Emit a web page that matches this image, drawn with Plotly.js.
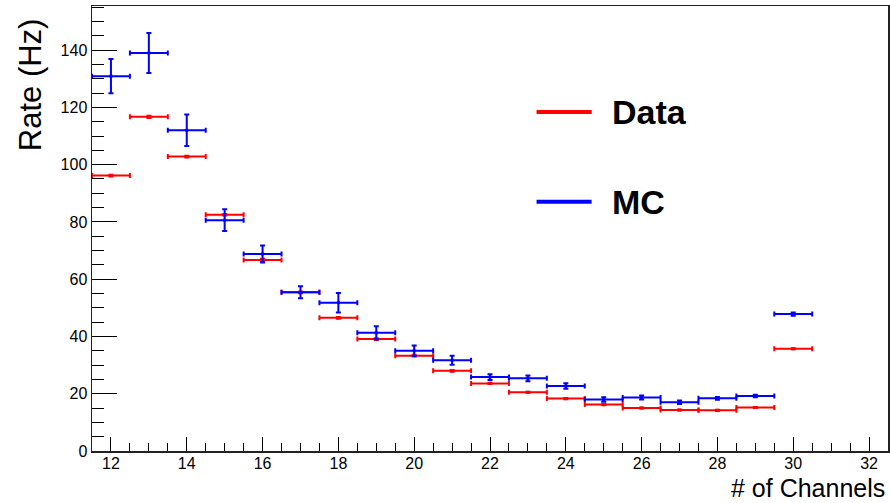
<!DOCTYPE html>
<html>
<head>
<meta charset="utf-8">
<script src="https://cdn.plot.ly/plotly-3.0.1.min.js"></script>
<style>
  html, body { margin: 0; padding: 0; background: #ffffff; }
  #chart { width: 890px; height: 503px; }
</style>
</head>
<body>
<div id="chart"></div>
<script>
// Number of channels (bin centres, bin width 1)
const channels = [12, 13, 14, 15, 16, 17, 18, 19, 20, 21, 22, 23, 24, 25, 26, 27, 28, 29, 30];
const binHalfWidth = [0.5, 0.5, 0.5, 0.5, 0.5, 0.5, 0.5, 0.5, 0.5, 0.5, 0.5, 0.5, 0.5, 0.5, 0.5, 0.5, 0.5, 0.5, 0.5];

// Data rate (Hz) and its error
const dataRate = [96.2, 116.7, 102.8, 82.5, 66.7, 55.4, 46.5, 39.1, 33.3, 28.0, 23.6, 20.5, 18.3, 16.2, 15.0, 14.3, 14.2, 15.2, 35.7];
const dataErr  = [0.3, 0.4, 0.3, 0.3, 0.4, 0.3, 0.3, 0.3, 0.3, 0.3, 0.2, 0.2, 0.2, 0.2, 0.2, 0.2, 0.2, 0.2, 0.2];

// MC rate (Hz) and its error
const mcRate = [130.9, 139.0, 112.0, 80.6, 68.8, 55.4, 51.8, 41.3, 35.0, 31.7, 25.8, 25.4, 22.7, 18.0, 18.7, 17.0, 18.4, 19.2, 47.8];
const mcErr  = [6.0, 7.0, 5.5, 3.8, 3.0, 2.1, 3.4, 2.3, 1.8, 1.6, 1.0, 1.0, 1.0, 0.8, 0.7, 0.6, 0.5, 0.4, 0.6];

// Axis ticks
const xTickVals = [12, 14, 16, 18, 20, 22, 24, 26, 28, 30, 32];
const yTickVals = [0, 20, 40, 60, 80, 100, 120, 140];

const legendNames = ['Data', 'MC'];
const xTitle = '# of Channels';
const yTitle = 'Rate (Hz)';
const RED = 'rgb(255,0,0)';
const BLUE = 'rgb(0,0,255)';

function histTrace(name, y, ey, color) {
  return {
    type: 'scatter',
    mode: 'markers',
    name: name,
    x: channels,
    y: y,
    marker: { size: 3, color: color, symbol: 'square' },
    error_x: { type: 'data', array: binHalfWidth, visible: true, color: color, thickness: 2, width: 2.5 },
    error_y: { type: 'data', array: ey, visible: true, color: color, thickness: 2, width: 2.5 },
    showlegend: false,
    hoverinfo: 'x+y'
  };
}

const traces = [
  histTrace(legendNames[0], dataRate, dataErr, RED),
  histTrace(legendNames[1], mcRate, mcErr, BLUE)
];

const font = 'Liberation Sans, Arial, Helvetica, sans-serif';

const layout = {
  width: 890,
  height: 503,
  margin: { l: 92, r: 2, t: 6, b: 52 },
  paper_bgcolor: '#ffffff',
  plot_bgcolor: '#ffffff',
  font: { family: font, color: '#000000', size: 16 },
  xaxis: {
    range: [11.5, 32.5],
    tickmode: 'array',
    tickvals: xTickVals,
    ticktext: xTickVals.map(String),
    ticks: 'inside',
    ticklen: 14,
    tickwidth: 1,
    tickcolor: '#000000',
    ticklabelstandoff: -3,
    minor: { dtick: 0.5, tick0: 0, ticks: 'inside', ticklen: 8, tickwidth: 1, tickcolor: '#000000', showgrid: false },
    showgrid: false,
    zeroline: false,
    showline: true,
    linecolor: '#222222',
    linewidth: 1.5,
    mirror: true,
    tickfont: { family: font, size: 16, color: '#000000' },
    title: { text: '' }
  },
  yaxis: {
    range: [0, 155.4],
    tickmode: 'array',
    tickvals: yTickVals,
    ticktext: yTickVals.map(String),
    ticks: 'inside',
    ticklen: 25,
    tickwidth: 1,
    tickcolor: '#000000',
    minor: { dtick: 5, tick0: 0, ticks: 'inside', ticklen: 12, tickwidth: 1, tickcolor: '#000000', showgrid: false },
    showgrid: false,
    zeroline: false,
    showline: true,
    linecolor: '#222222',
    linewidth: 1.5,
    mirror: true,
    tickfont: { family: font, size: 16, color: '#000000' },
    title: { text: '' }
  },
  shapes: [
    { type: 'line', xref: 'paper', yref: 'paper', x0: 0.5585, x1: 0.6276, y0: 0.762, y1: 0.762, line: { color: RED, width: 4 } },
    { type: 'line', xref: 'paper', yref: 'paper', x0: 0.5585, x1: 0.6276, y0: 0.560, y1: 0.560, line: { color: BLUE, width: 4 } }
  ],
  annotations: [
    { xref: 'paper', yref: 'paper', x: 0.651, y: 0.762, xanchor: 'left', yanchor: 'middle', showarrow: false,
      text: '<b>' + legendNames[0] + '</b>', font: { family: font, size: 34, color: '#000000' } },
    { xref: 'paper', yref: 'paper', x: 0.651, y: 0.560, xanchor: 'left', yanchor: 'middle', showarrow: false,
      text: '<b>' + legendNames[1] + '</b>', font: { family: font, size: 34, color: '#000000' } },
    { xref: 'paper', yref: 'paper', x: 0.9975, y: -0.1169, xanchor: 'right', yanchor: 'bottom', showarrow: false,
      borderpad: 0, text: xTitle, font: { family: font, size: 25, color: '#000000' } },
    { xref: 'paper', yref: 'paper', x: -0.078, y: 0.978, xanchor: 'center', yanchor: 'top', showarrow: false,
      textangle: -90, text: yTitle, font: { family: font, size: 31, color: '#000000' } }
  ]
};

Plotly.newPlot('chart', traces, layout, { displayModeBar: false, staticPlot: true });
</script>
</body>
</html>
